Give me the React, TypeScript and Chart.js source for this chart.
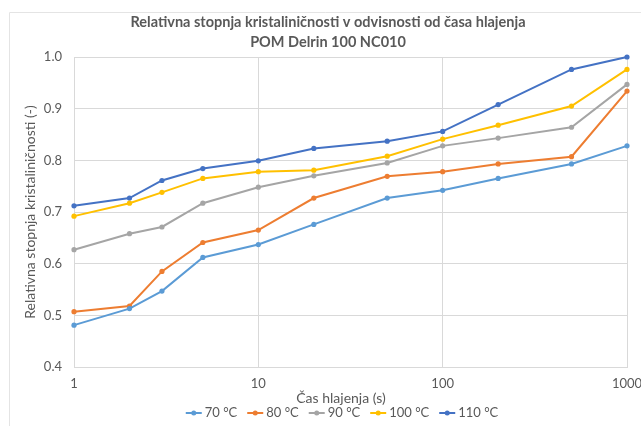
import React, { useEffect, useRef } from "react";
import { Chart, registerables } from "chart.js";

Chart.register(...registerables);

const X_VALUES = [1, 2, 3, 5, 10, 20, 50, 100, 200, 500, 1000];
const SERIES_LABELS = ["70 °C", "80 °C", "90 °C", "100 °C", "110 °C"];
const T70 = [0.481, 0.513, 0.547, 0.612, 0.637, 0.676, 0.727, 0.742, 0.765, 0.793, 0.828];
const T80 = [0.507, 0.518, 0.585, 0.641, 0.665, 0.727, 0.769, 0.778, 0.793, 0.807, 0.934];
const T90 = [0.627, 0.658, 0.671, 0.717, 0.748, 0.770, 0.795, 0.828, 0.843, 0.864, 0.947];
const T100 = [0.692, 0.717, 0.738, 0.765, 0.778, 0.781, 0.808, 0.841, 0.868, 0.905, 0.976];
const T110 = [0.712, 0.727, 0.761, 0.784, 0.799, 0.823, 0.837, 0.856, 0.908, 0.976, 1.0];
const COLORS = ["#5B9BD5", "#ED7D31", "#A5A5A5", "#FFC000", "#4472C4"];
const X_TICKS = [1, 10, 100, 1000];
const TITLE_LINES = [
  "Relativna stopnja kristaliničnosti v odvisnosti od časa hlajenja",
  "POM Delrin 100 NC010",
];
const X_TITLE = "Čas hlajenja (s)";
const Y_TITLE = "Relativna stopnja kristaliničnosti (-)";

const FONT = "Lato, 'Open Sans', sans-serif";
const TEXT = "#595959";
const GRID = "#D9D9D9";

const decorPlugin = {
  id: "decor",
  afterDraw(chart: any) {
    const { ctx, chartArea } = chart;
    ctx.save();
    // outer frame
    ctx.strokeStyle = "#E4E4E4";
    ctx.lineWidth = 1;
    ctx.beginPath();
    ctx.moveTo(9.5, 426);
    ctx.lineTo(9.5, 12.5);
    ctx.lineTo(641, 12.5);
    ctx.stroke();

    // title
    ctx.fillStyle = TEXT;
    ctx.textAlign = "center";
    ctx.textBaseline = "middle";
    ctx.font = `bold 14.5px ${FONT}`;
    ctx.fillText(TITLE_LINES[0], 328, 22);
    ctx.fillText(TITLE_LINES[1], 328, 42);

    // x title
    ctx.font = `14px ${FONT}`;
    ctx.fillText(X_TITLE, 341, 398);

    // y title
    ctx.save();
    ctx.translate(30, (chartArea.top + chartArea.bottom) / 2);
    ctx.rotate(-Math.PI / 2);
    ctx.fillText(Y_TITLE, 0, 0);
    ctx.restore();

    // legend
    ctx.font = `13px ${FONT}`;
    const lineLen = 16;
    const gap = 3;
    const spacing = 10;
    const widths = SERIES_LABELS.map((l) => ctx.measureText(l).width);
    const total =
      widths.reduce((a, b) => a + b, 0) +
      SERIES_LABELS.length * (lineLen + gap) +
      (SERIES_LABELS.length - 1) * spacing;
    let x = 342 - total / 2;
    const y = 413;
    ctx.textAlign = "left";
    SERIES_LABELS.forEach((label, i) => {
      ctx.strokeStyle = COLORS[i];
      ctx.lineWidth = 2;
      ctx.beginPath();
      ctx.moveTo(x, y);
      ctx.lineTo(x + lineLen, y);
      ctx.stroke();
      ctx.fillStyle = COLORS[i];
      ctx.beginPath();
      ctx.arc(x + lineLen / 2, y, 2.5, 0, Math.PI * 2);
      ctx.fill();
      ctx.fillStyle = TEXT;
      ctx.fillText(label, x + lineLen + gap, y);
      x += lineLen + gap + widths[i] + spacing;
    });
    ctx.restore();
  },
};

export default function App() {
  const ref = useRef<HTMLCanvasElement | null>(null);
  useEffect(() => {
    if (!ref.current) return;
    const seriesData = [T70, T80, T90, T100, T110];
    const chart = new Chart(ref.current, {
      type: "line",
      data: {
        datasets: seriesData.map((vals, i) => ({
          label: SERIES_LABELS[i],
          data: X_VALUES.map((x, j) => ({ x, y: vals[j] })),
          borderColor: COLORS[i],
          backgroundColor: COLORS[i],
          borderWidth: 2,
          pointRadius: 2.6,
          pointBorderWidth: 0,
          pointHoverRadius: 2.6,
          tension: 0,
          fill: false,
          clip: false,
        })),
      },
      options: {
        animation: false,
        responsive: false,
        maintainAspectRatio: false,
        layout: { padding: { left: 0, right: 14, top: 57, bottom: 0 } },
        plugins: {
          legend: { display: false },
          tooltip: { enabled: false },
          title: { display: false },
        },
        scales: {
          x: {
            type: "logarithmic",
            min: 1,
            max: 1000,
            afterBuildTicks: (scale: any) => {
              scale.ticks = X_TICKS.map((v) => ({ value: v }));
            },
            afterFit: (scale: any) => {
              scale.height = 59;
              scale.paddingLeft = 0;
              scale.paddingRight = 0;
            },
            ticks: {
              autoSkip: false,
              maxRotation: 0,
              padding: 9,
              color: TEXT,
              font: { family: FONT, size: 13 },
              callback: (v: any) => String(v),
            },
            grid: { color: GRID, lineWidth: 1, drawTicks: false },
            border: { color: GRID },
          },
          y: {
            min: 0.4,
            max: 1.0,
            afterFit: (scale: any) => {
              scale.width = 74;
              scale.paddingTop = 0;
              scale.paddingBottom = 0;
            },
            ticks: {
              stepSize: 0.1,
              padding: 12,
              color: TEXT,
              font: { family: FONT, size: 13 },
              callback: (v: any) => Number(v).toFixed(1),
            },
            grid: { color: GRID, lineWidth: 1, drawTicks: false },
            border: { color: GRID },
          },
        },
      },
      plugins: [decorPlugin],
    });
    return () => chart.destroy();
  }, []);
  return (
    <div style={{ position: "absolute", left: 0, top: 0, width: 641, height: 426, background: "#fff" }}>
      <canvas ref={ref} width={641} height={426} />
    </div>
  );
}
